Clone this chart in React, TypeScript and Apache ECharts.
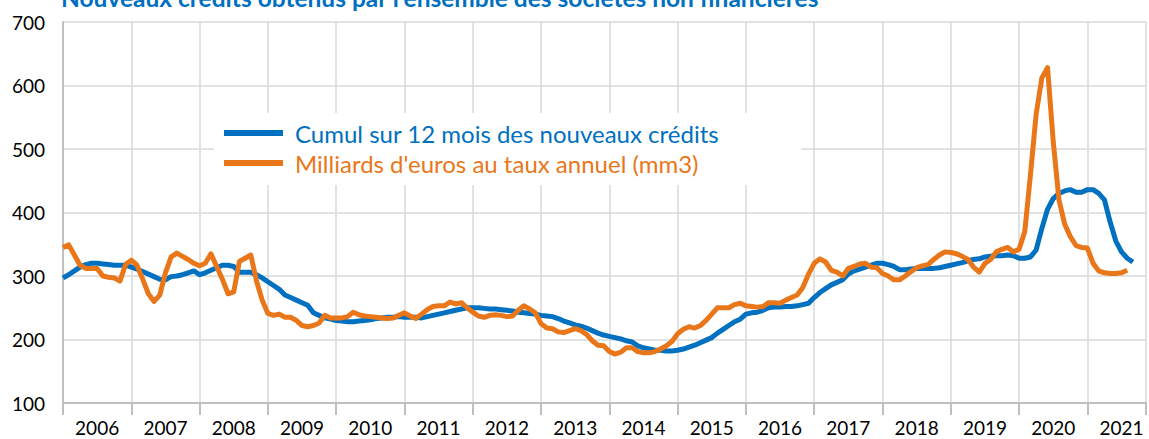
import React, { useEffect, useRef } from "react";
import * as echarts from "echarts";

const startYear = 2006;
const yearLabels = ["2006","2007","2008","2009","2010","2011","2012","2013","2014","2015","2016","2017","2018","2019","2020","2021"];

// Monthly series, Jan 2006 onwards
const cumul12: number[] = [
  297, 302, 308, 314, 318, 320, 320, 319, 318, 317, 317, 317,
  314, 311, 307, 303, 299, 295, 294, 299, 300, 302, 305, 308,
  302, 305, 309, 313, 317, 317, 315, 306, 306, 306, 302, 297,
  291, 285, 279, 270, 266, 262, 258, 254, 242, 238, 234, 232,
  230, 229, 228, 228, 229, 230, 231, 233, 234, 235, 235, 236,
  235, 235, 235, 234, 236, 238, 240, 242, 244, 246, 248, 250,
  250, 250, 249, 248, 248, 247, 246, 245, 243, 242, 241, 240,
  238, 237, 236, 233, 229, 226, 223, 221, 218, 214, 210, 207,
  205, 203, 201, 198, 196, 190, 187, 185, 183, 183, 182, 182,
  183, 185, 188, 191, 195, 199, 203, 210, 216, 222, 228, 232,
  240, 242, 243, 246, 250, 251, 251, 252, 252, 253, 255, 257,
  266, 274, 280, 286, 290, 294, 303, 308, 311, 314, 317, 320,
  320, 318, 315, 310, 310, 311, 312, 312, 312, 312, 313, 315,
  317, 319, 321, 324, 326, 327, 330, 331, 332, 332, 333, 332,
  328, 328, 330, 341, 375, 405, 422, 430, 434, 436, 432, 432,
  436, 436, 430, 420, 385, 355, 338, 328, 322,
];

const mm3: number[] = [
  345, 349, 333, 317, 312, 312, 312, 300, 298, 297, 292, 318,
  325, 317, 295, 272, 260, 270, 305, 330, 336, 331, 326, 320,
  316, 320, 335, 315, 295, 272, 275, 323, 328, 333, 292, 262,
  241, 238, 240, 235, 235, 230, 222, 220, 222, 226, 238, 234,
  234, 234, 236, 243, 239, 237, 236, 235, 234, 233, 234, 238,
  242, 237, 233, 240, 247, 252, 253, 253, 259, 256, 258, 250,
  243, 237, 235, 238, 239, 238, 236, 237, 246, 253, 248, 242,
  225, 218, 217, 212, 211, 214, 217, 214, 208, 198, 191, 190,
  181, 177, 180, 187, 187, 181, 179, 179, 181, 185, 190, 197,
  209, 216, 220, 218, 222, 230, 240, 250, 250, 250, 255, 257,
  253, 252, 251, 252, 258, 258, 257, 262, 266, 270, 282, 303,
  320, 327, 322, 309, 306, 300, 312, 315, 319, 320, 314, 313,
  304, 300, 294, 294, 300, 307, 313, 316, 318, 326, 333, 338,
  337, 335, 331, 326, 314, 306, 320, 326, 338, 342, 345, 338,
  342, 370, 460, 555, 612, 628, 512, 420, 382, 362, 348, 345,
  344, 320, 308, 305, 304, 304, 305, 309,
];

const seriesNames = ["Cumul sur 12 mois des nouveaux crédits", "Milliards d'euros au taux annuel (mm3)"];
const titleText = "Nouveaux crédits obtenus par l'ensemble des sociétés non financières";

const BLUE = "#0070C0";
const ORANGE = "#E9771A";
const FONT = "Lato, 'Open Sans', sans-serif";

export default function App() {
  const ref = useRef<HTMLDivElement>(null);
  useEffect(() => {
    if (!ref.current) return;
    const chart = echarts.init(ref.current, undefined, { renderer: "svg" });
    const xMax = 190.3;
    chart.setOption({
      animation: false,
      textStyle: { fontFamily: FONT },
      title: {
        text: titleText,
        left: 61,
        top: -15,
        padding: 0,
        textStyle: { color: BLUE, fontWeight: "bold", fontSize: 24.5, fontFamily: FONT },
      },
      legend: {
        orient: "vertical",
        left: 214,
        top: 113,
        backgroundColor: "#ffffff",
        padding: [7, 82, 9, 10],
        itemWidth: 59,
        itemHeight: 6,
        itemGap: 4,
        icon: "rect",
        selectedMode: false,
        textStyle: { fontSize: 24, fontFamily: FONT, lineHeight: 26, padding: [0, 0, 0, 7] },
        data: [
          { name: seriesNames[0], textStyle: { color: BLUE } },
          { name: seriesNames[1], textStyle: { color: ORANGE } },
        ],
      },
      grid: { left: 63, right: 0, top: 22, bottom: 36, containLabel: false },
      xAxis: [
        {
          type: "value",
          min: 0,
          max: xMax,
          interval: 12,
          axisLine: { show: true, lineStyle: { color: "#BFBFBF", width: 2 } },
          axisTick: { show: true, length: 12, lineStyle: { color: "#BFBFBF", width: 2 } },
          axisLabel: { show: false },
          splitLine: { show: true, lineStyle: { color: "#D9D9D9", width: 1.5 } },
        },
        {
          type: "value",
          min: 0,
          max: xMax,
          interval: 6,
          position: "bottom",
          axisLine: { show: false },
          axisTick: { show: false },
          splitLine: { show: false },
          axisLabel: {
            show: true,
            margin: 15,
            color: "#000",
            fontSize: 19,
            lineHeight: 19,
            fontFamily: FONT,
            formatter: (v: number) => {
              const r = Math.round(v);
              if (Math.abs(v - r) > 0.01 || r % 12 !== 6) return "";
              const idx = (r - 6) / 12;
              return yearLabels[idx] ?? String(startYear + idx);
            },
          },
        },
      ],
      yAxis: {
        type: "value",
        min: 100,
        max: 700,
        interval: 100,
        axisLine: { show: true, lineStyle: { color: "#BFBFBF", width: 2 } },
        axisTick: { show: false },
        axisLabel: { color: "#000", fontSize: 19, margin: 18, fontFamily: FONT },
        splitLine: { show: true, lineStyle: { color: "#D9D9D9", width: 1.5 } },
      },
      series: [
        {
          name: seriesNames[0],
          type: "line",
          xAxisIndex: 0,
          showSymbol: false,
          symbol: "none",
          data: cumul12.map((v, i) => [i, v]),
          lineStyle: { color: BLUE, width: 5, join: "round" },
          itemStyle: { color: BLUE },
          z: 3,
        },
        {
          name: seriesNames[1],
          type: "line",
          xAxisIndex: 0,
          showSymbol: false,
          symbol: "none",
          data: mm3.map((v, i) => [i, v]),
          lineStyle: { color: ORANGE, width: 5, join: "round" },
          itemStyle: { color: ORANGE },
          z: 4,
        },
      ],
    });
    return () => chart.dispose();
  }, []);
  return (
    <div
      ref={ref}
      style={{ position: "fixed", left: 0, top: 0, width: 1149, height: 439, background: "#fff" }}
    />
  );
}
